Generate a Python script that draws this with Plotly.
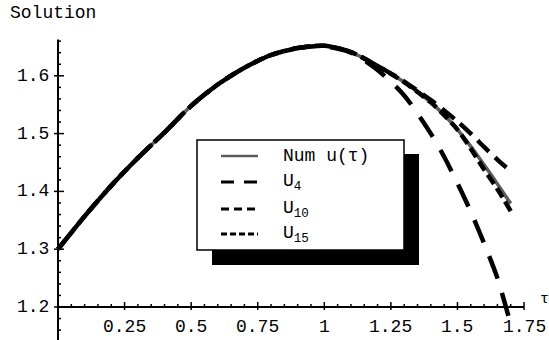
import numpy as np
import plotly.graph_objects as go

# Time grid and solution curves
tau = [0.0, 0.1, 0.2, 0.3, 0.4, 0.5, 0.6, 0.7, 0.8, 0.9, 1.0, 1.1, 1.2, 1.3,
       1.4, 1.45, 1.5, 1.55, 1.6, 1.65, 1.7]
num_u = [1.300, 1.357, 1.410, 1.458, 1.502, 1.548, 1.585, 1.614, 1.636, 1.648,
         1.652, 1.641, 1.617, 1.589, 1.554, 1.532, 1.507, 1.478, 1.446, 1.413, 1.379]
u4 = [1.300, 1.357, 1.410, 1.458, 1.502, 1.548, 1.585, 1.614, 1.636, 1.648,
      1.651, 1.640, 1.610, 1.566, 1.500, 1.460, 1.414, 1.365, 1.310, 1.250, 1.170]
u10 = [1.300, 1.357, 1.410, 1.458, 1.502, 1.548, 1.585, 1.614, 1.636, 1.648,
       1.652, 1.641, 1.617, 1.590, 1.558, 1.540, 1.521, 1.500, 1.477, 1.455, 1.435]
u15 = [1.300, 1.357, 1.410, 1.458, 1.502, 1.548, 1.585, 1.614, 1.636, 1.648,
       1.652, 1.641, 1.617, 1.589, 1.554, 1.532, 1.507, 1.474, 1.438, 1.404, 1.366]

x_tick_vals = [0.25, 0.5, 0.75, 1.0, 1.25, 1.5, 1.75]
x_tick_text = ["0.25", "0.5", "0.75", "1", "1.25", "1.5", "1.75"]
y_tick_vals = [1.2, 1.3, 1.4, 1.5, 1.6]
y_tick_text = ["1.2", "1.3", "1.4", "1.5", "1.6"]

legend_names = ["Num u(\u03c4)", "U<sub>4</sub>", "U<sub>10</sub>", "U<sub>15</sub>"]

W, H = 549, 340
FONT = "Liberation Mono"
FS = 18

# pixel geometry of the plotting frame
X0_PX, XS = 58.0, 266.3      # pixel of tau=0, pixels per unit tau
Y0_PX, YS = 307.0, 578.0     # pixel of u=1.2, pixels per unit u
x_range = [-X0_PX / XS, (W - X0_PX) / XS]
y_range = [1.2 - (H - Y0_PX) / YS, 1.2 + Y0_PX / YS]


def dx(px):
    return px / XS


def dy(px):
    return px / YS


def px_x(p):
    return p / W


def px_y(p):
    return 1 - p / H


fig = go.Figure()

styles = [
    dict(color="#5c5c5c", width=3.5),
    dict(color="black", width=4.5, dash="24px,15px"),
    dict(color="black", width=4.5, dash="16px,8px"),
    dict(color="black", width=4.5, dash="11px,5px"),
]
for ys, st in zip([num_u, u4, u10, u15], styles):
    fig.add_trace(go.Scatter(x=tau, y=ys, mode="lines",
                             line=dict(shape="spline", smoothing=0.8, **st),
                             showlegend=False, hoverinfo="skip"))

shapes = []
ax = dict(color="black", width=2)
tk = dict(color="black", width=1.5)
# axes
shapes.append(dict(type="line", xref="x", yref="y", x0=0, x1=1.75, y0=1.2, y1=1.2, line=ax))
shapes.append(dict(type="line", xref="x", yref="y", x0=0, x1=0, y0=y_range[0], y1=1.663, line=ax))
# x ticks
for t in np.arange(0.05, 1.751, 0.05):
    major = any(abs(t - v) < 1e-6 for v in x_tick_vals)
    y0 = 1.2 - dy(3) if major else 1.2
    y1 = 1.2 + dy(5) if major else 1.2 + dy(3)
    shapes.append(dict(type="line", xref="x", yref="y", x0=t, x1=t, y0=y0, y1=y1, line=tk))
# y ticks
for v in np.arange(1.14, 1.661, 0.02):
    major = any(abs(v - m) < 1e-6 for m in y_tick_vals)
    x0 = -dx(4) if major else 0
    x1 = dx(6) if major else dx(3)
    shapes.append(dict(type="line", xref="x", yref="y", x0=x0, x1=x1, y0=v, y1=v, line=tk))

# legend frame with drop shadow
bx0, by0, bx1, by1 = 197, 140, 404, 250
off = 15
shapes.append(dict(type="rect", xref="paper", yref="paper",
                   x0=px_x(bx0 + off), x1=px_x(bx1 + off), y0=px_y(by1 + off), y1=px_y(by0 + off - 1),
                   fillcolor="black", line=dict(width=0)))
shapes.append(dict(type="rect", xref="paper", yref="paper",
                   x0=px_x(bx0), x1=px_x(bx1), y0=px_y(by1), y1=px_y(by0),
                   fillcolor="white", line=dict(color="black", width=1.5)))

entry_y = [156, 182, 209, 234]
sample_styles = [
    dict(color="#5c5c5c", width=2.5),
    dict(color="black", width=3, dash="13px,10px"),
    dict(color="black", width=3, dash="8px,5px"),
    dict(color="black", width=3, dash="6px,3px"),
]
annotations = []
for name, ey, st in zip(legend_names, entry_y, sample_styles):
    shapes.append(dict(type="line", xref="paper", yref="paper",
                       x0=px_x(221), x1=px_x(258), y0=px_y(ey), y1=px_y(ey), line=st))
    annotations.append(dict(xref="paper", yref="paper", x=px_x(281), y=px_y(ey),
                            text=name, showarrow=False, xanchor="left", yanchor="middle",
                            font=dict(family=FONT, size=FS, color="black")))

for v, s in zip(x_tick_vals, x_tick_text):
    annotations.append(dict(xref="x", yref="y", x=v, y=1.2 - dy(20), text=s, showarrow=False,
                            xanchor="center", yanchor="middle",
                            font=dict(family=FONT, size=FS, color="black")))
for v, s in zip(y_tick_vals, y_tick_text):
    annotations.append(dict(xref="x", yref="y", x=-dx(7), y=v, text=s, showarrow=False,
                            xanchor="right", yanchor="middle",
                            font=dict(family=FONT, size=FS, color="black")))

annotations.append(dict(xref="paper", yref="paper", x=px_x(8), y=px_y(13), text="Solution",
                        showarrow=False, xanchor="left", yanchor="middle",
                        font=dict(family=FONT, size=FS, color="black")))
annotations.append(dict(xref="paper", yref="paper", x=px_x(538), y=px_y(299), text="\u03c4",
                        showarrow=False, xanchor="left", yanchor="middle",
                        font=dict(family=FONT, size=FS - 3, color="black")))

fig.update_layout(
    width=W, height=H,
    margin=dict(l=0, r=0, t=0, b=0),
    paper_bgcolor="white", plot_bgcolor="white",
    xaxis=dict(range=x_range, visible=False, fixedrange=True),
    yaxis=dict(range=y_range, visible=False, fixedrange=True),
    shapes=shapes, annotations=annotations,
    showlegend=False,
)

fig.write_html("out.html")
